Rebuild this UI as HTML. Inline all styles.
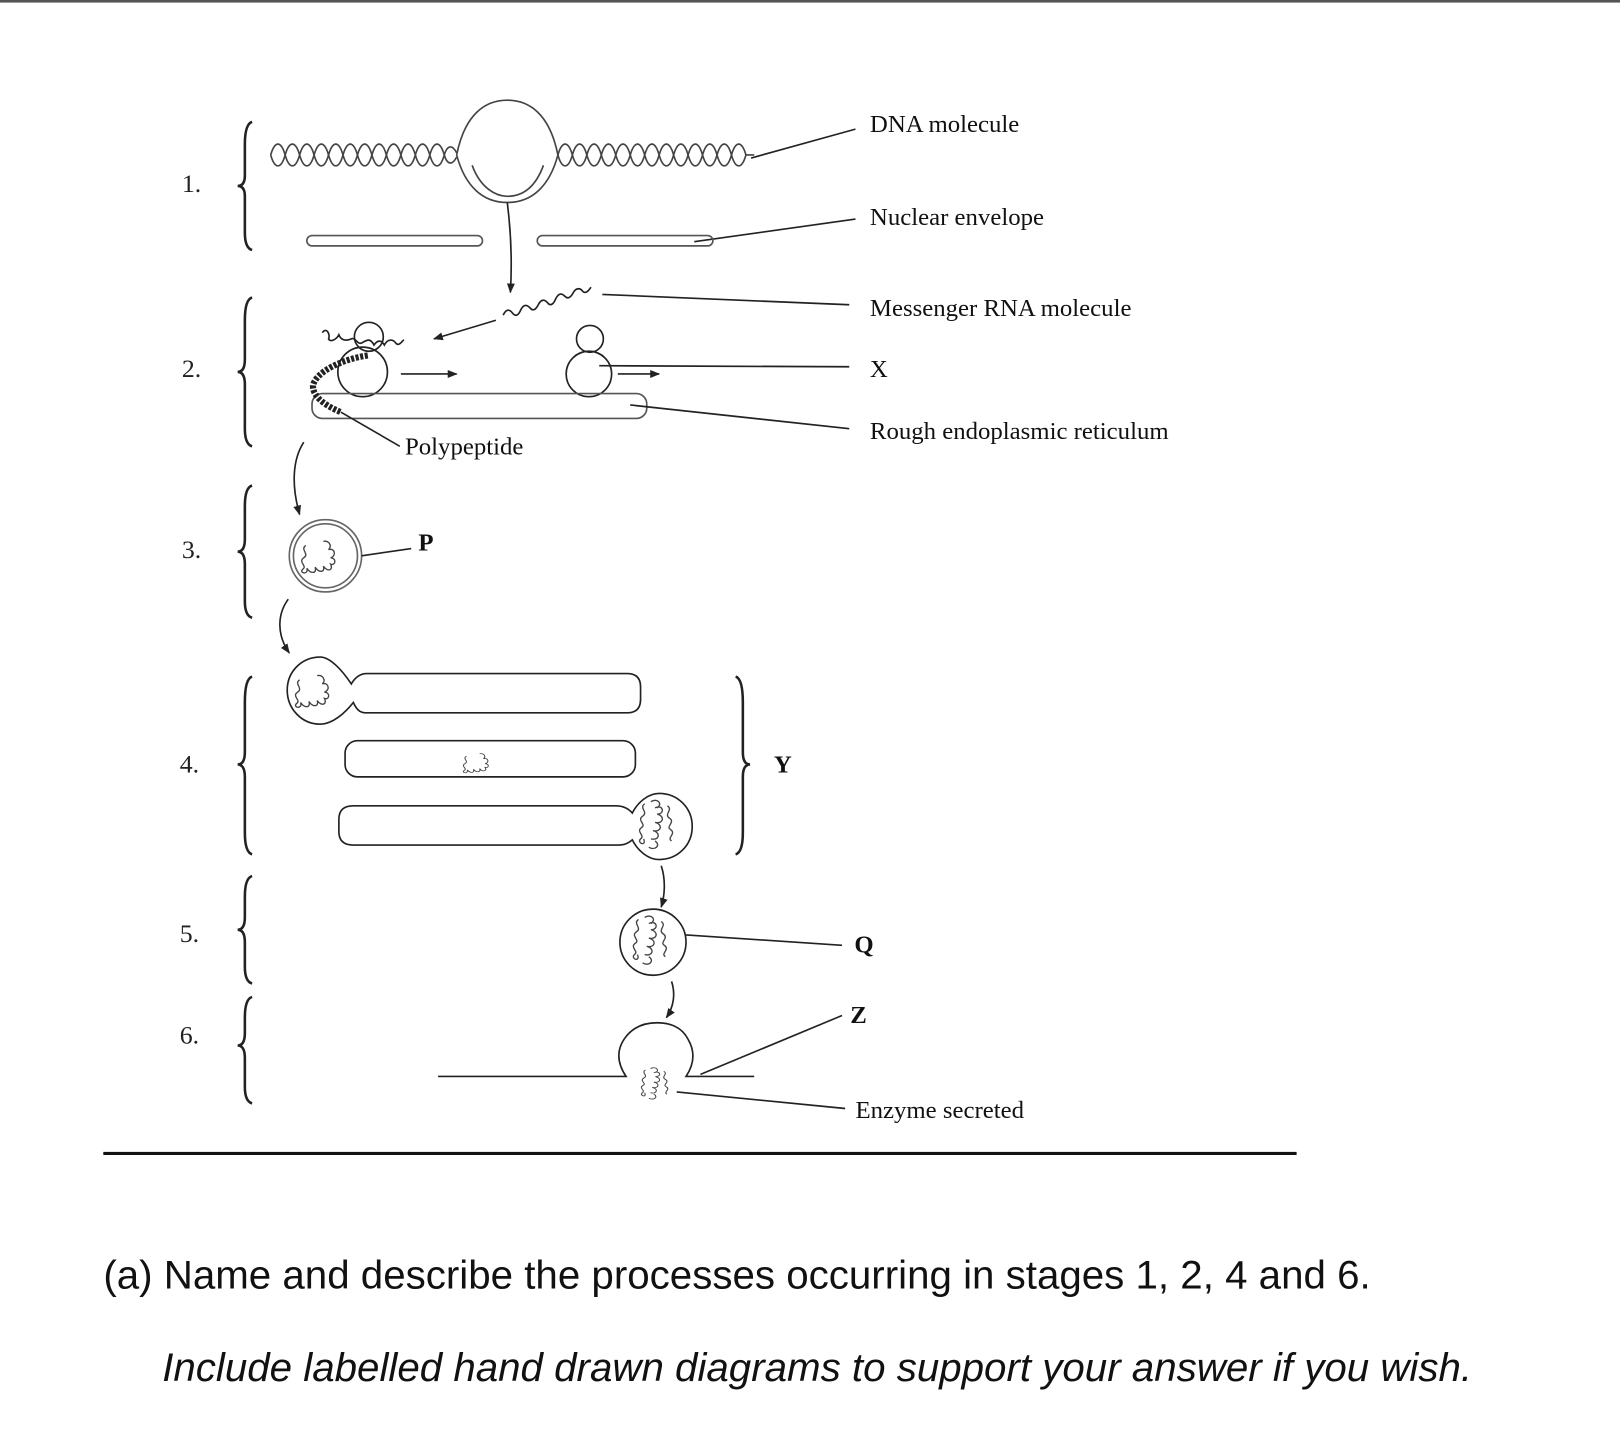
<!DOCTYPE html>
<html><head><meta charset="utf-8"><style>
html,body{margin:0;padding:0;background:#fff;width:1620px;height:1436px;overflow:hidden}
svg{display:block}
.l{font-family:"Liberation Serif",serif;font-size:24px;fill:#111}
.n{font-family:"Liberation Serif",serif;font-size:25px;fill:#222}
</style></head><body>
<svg width="1620" height="1436" viewBox="0 0 1568 1390" preserveAspectRatio="none" xmlns="http://www.w3.org/2000/svg">
<defs>
<marker id="a" viewBox="0 0 10 10" refX="9" refY="5" markerWidth="6" markerHeight="6" orient="auto"><path d="M0,1 L10,5 L0,9 z" fill="#222"/></marker>
<g id="sq"><path d="M-22,-10 c-6,4 4,8 -2,12 c-6,4 4,8 -1,11 c-4,4 6,6 4,-1 c4,6 10,5 8,-1 c4,6 10,5 8,-1 c4,6 10,4 7,-2 c5,2 6,-6 0,-6 c6,-2 4,-10 -2,-8 c4,-4 0,-9 -5,-8" fill="none" stroke="#444" stroke-width="1.3"/></g>
<g id="sq2"><path d="M-14,-22 c-6,4 4,8 -2,12 c-6,4 4,8 -1,11 c-6,4 4,8 -1,11 c-4,4 6,8 3,0 M-4,-18 c8,-4 10,6 2,6 c8,2 6,10 -2,8 c8,2 6,10 -2,8 c8,2 6,10 -2,8 M8,-20 c6,4 -4,8 2,12 c6,4 -4,8 1,11 c6,4 -4,8 1,11 M-8,-24 c6,-4 12,2 6,6 M-10,20 c6,4 12,-2 6,-6" fill="none" stroke="#444" stroke-width="1.3"/></g>
</defs>
<rect x="0" y="0" width="1568" height="2.5" fill="#555"/>
<g fill="none" stroke="#222" stroke-width="2.5">
<path d="M244,118 Q237,120 237,140 L237,170 Q237,180 230,180 Q237,180 237,190 L237,225 Q237,240 244,242"/>
<path d="M244,288 Q237,290 237,310 L237,348 Q237,360 230,360 Q237,360 237,372 L237,415 Q237,430 244,432"/>
<path d="M244,470 Q237,472 237,490 L237,522 Q237,534 230,534 Q237,534 237,546 L237,582 Q237,596 244,598"/>
<path d="M244,655 Q237,657 237,680 L237,728 Q237,740 230,740 Q237,740 237,752 L237,806 Q237,825 244,827"/>
<path d="M244,848 Q237,850 237,868 L237,888 Q237,900 230,900 Q237,900 237,912 L237,936 Q237,950 244,952"/>
<path d="M244,965 Q237,967 237,985 L237,1000 Q237,1012 230,1012 Q237,1012 237,1024 L237,1052 Q237,1066 244,1068"/>
<path d="M712,655 Q719,657 719,680 L719,728 Q719,740 726,740 Q719,740 719,752 L719,806 Q719,825 712,827"/>
</g>
<g fill="none" stroke="#444" stroke-width="1.6">
<path d="M262,150 C266,136 272,136 276,150 C280,164 286,164 290,150 C294,136 300,136 304,150 C308,164 314,164 318,150 C322,136 328,136 332,150 C336,164 342,164 346,150 C350,136 356,136 360,150 C364,164 370,164 374,150 C378,136 384,136 388,150 C392,164 398,164 402,150 C406,136 412,136 416,150 C420,164 426,164 430,150 C433,140 438,140 442,148"/>
<path d="M262,150 C266,164 272,164 276,150 C280,136 286,136 290,150 C294,164 300,164 304,150 C308,136 314,136 318,150 C322,164 328,164 332,150 C336,136 342,136 346,150 C350,164 356,164 360,150 C364,136 370,136 374,150 C378,164 384,164 388,150 C392,136 398,136 402,150 C406,164 412,164 416,150 C420,136 426,136 430,150 C433,160 438,160 442,152"/>
<path d="M540,150 C544,136 550,136 554,150 C558,164 564,164 568,150 C572,136 578,136 582,150 C586,164 592,164 596,150 C600,136 606,136 610,150 C614,164 620,164 624,150 C628,136 634,136 638,150 C642,164 648,164 652,150 C656,136 662,136 666,150 C670,164 676,164 680,150 C684,136 690,136 694,150 C698,164 704,164 708,150 C712,136 718,136 722,150 L730,150"/>
<path d="M540,150 C544,164 550,164 554,150 C558,136 564,136 568,150 C572,164 578,164 582,150 C586,136 592,136 596,150 C600,164 606,164 610,150 C614,136 620,136 624,150 C628,164 634,164 638,150 C642,136 648,136 652,150 C656,164 662,164 666,150 C670,136 676,136 680,150 C684,164 690,164 694,150 C698,136 704,136 708,150 C712,164 718,164 722,150"/>
<path d="M442,150 C450,110 470,97 491,97 C512,97 532,110 540,150 C532,180 515,196 491,196 C467,196 450,180 442,150"/>
<path d="M457,160 C465,182 480,190 491,190 C505,190 518,182 526,160"/>
</g>
<g fill="none" stroke="#222" stroke-width="1.6">
<path d="M491,196 C494,220 496,250 494,283" marker-end="url(#a)"/>
<line x1="727" y1="153" x2="828" y2="125"/>
<line x1="672" y1="234" x2="828" y2="212"/>
<rect x="297" y="228" width="170" height="10" rx="5" stroke="#555"/>
<rect x="520" y="228" width="170" height="10" rx="5" stroke="#555"/>
<path d="M487,305 c3,-6 6,-6 9,-2 c3,4 6,2 8,-3 c3,-6 6,-5 9,-2 c3,4 6,1 8,-3 c3,-6 6,-5 9,-2 c3,4 6,1 8,-4 c3,-6 6,-5 9,-2 c3,3 6,0 8,-4 c3,-5 7,-4 9,-1 c3,3 6,-1 8,-4"/>
<line x1="583" y1="285" x2="822" y2="295"/>
<path d="M480,310 L420,328" marker-end="url(#a)"/>
<path d="M312,322 c4,-6 8,2 6,6 c2,4 8,0 10,-4 c2,6 8,6 12,4 c4,-2 6,6 10,4 c4,-2 8,-6 12,2 c4,-6 8,-4 10,0 c3,-6 8,-6 11,-2 c3,4 6,-2 8,-3"/>
<circle cx="357" cy="326" r="14"/>
<circle cx="351" cy="360" r="24"/>
<path d="M388,362 L442,362" marker-end="url(#a)"/>
<circle cx="571" cy="328" r="13"/>
<circle cx="570" cy="362" r="22"/>
<path d="M598,362 L638,362" marker-end="url(#a)"/>
<line x1="580" y1="354" x2="822" y2="355"/>
<rect x="302" y="381" width="324" height="24" rx="10" stroke="#555"/>
<line x1="610" y1="392" x2="822" y2="415"/>
<path d="M356,344 C330,348 306,360 303,373 C302,385 318,394 330,399" stroke="#222" stroke-width="6" stroke-dasharray="3 1.5"/>
<line x1="330" y1="399" x2="387" y2="432"/>
<path d="M294,428 C283,445 282,470 290,498" marker-end="url(#a)"/>
<path d="M279,580 C268,595 268,615 280,632" marker-end="url(#a)"/>
<path d="M640,838 C644,850 644,865 640,878" marker-end="url(#a)"/>
<path d="M650,950 C654,962 652,975 645,985" marker-end="url(#a)"/>
<circle cx="315" cy="538" r="35" stroke="#666"/>
<circle cx="315" cy="538" r="31" stroke="#666"/>
<line x1="350" y1="538" x2="398" y2="531"/>
<path d="M340,662 C332,650 320,636 310,636 C292,636 278,650 278,668 C278,686 292,701 310,701 C322,701 334,690 342,680 C346,689 350,690 355,690 L607,690 Q620,690 620,677 L620,665 Q620,652 607,652 L355,652 Q346,652 340,662 Z"/>
<rect x="334" y="717" width="281" height="35" rx="12"/>
<path d="M612,787 C617,777 627,768 638,768 C656,768 670,782 670,800 C670,818 656,832 638,832 C627,832 617,823 612,813 C606,818 602,818 596,818 L342,818 Q328,818 328,805 L328,793 Q328,780 342,780 L596,780 Q606,780 612,787 Z"/>
<circle cx="632" cy="912" r="32"/>
<line x1="664" y1="905" x2="815" y2="915"/>
<path d="M424,1042 L606,1042 C598,1030 596,1018 604,1006 C612,994 624,990 636,990 C648,990 660,994 666,1006 C673,1018 672,1030 664,1042 L730,1042"/>
<line x1="678" y1="1040" x2="815" y2="983"/>
<line x1="655" y1="1057" x2="818" y2="1073"/>
</g>
<use href="#sq" x="318" y="538"/>
<use href="#sq" x="312" y="668"/>
<use href="#sq" x="468" y="738" transform="translate(468,738) scale(0.75,0.6) translate(-468,-738)"/>
<use href="#sq2" x="638" y="800"/>
<use href="#sq2" x="632" y="912"/>
<use href="#sq2" x="636" y="1050" transform="translate(636,1050) scale(0.8,0.65) translate(-636,-1050)"/>
<text class="n" x="176" y="186">1.</text>
<text class="n" x="176" y="365">2.</text>
<text class="n" x="176" y="540">3.</text>
<text class="n" x="174" y="748">4.</text>
<text class="n" x="174" y="912">5.</text>
<text class="n" x="174" y="1010">6.</text>
<text class="l" x="842" y="128">DNA molecule</text>
<text class="l" x="842" y="218">Nuclear envelope</text>
<text class="l" x="842" y="306">Messenger RNA molecule</text>
<text class="l" x="842" y="365">X</text>
<text class="l" x="842" y="425">Rough endoplasmic reticulum</text>
<text class="l" x="392" y="440">Polypeptide</text>
<text class="l" x="405" y="533" font-weight="bold">P</text>
<text class="l" x="749" y="748" font-weight="bold">Y</text>
<text class="l" x="827" y="922" font-weight="bold">Q</text>
<text class="l" x="823" y="990" font-weight="bold">Z</text>
<text class="l" x="828" y="1082">Enzyme secreted</text>
<rect x="100" y="1115" width="1155" height="3" fill="#111"/>
<text x="100" y="1247" font-family="Liberation Sans, sans-serif" font-size="39" fill="#111">(a) Name and describe the processes occurring in stages 1, 2, 4 and 6.</text>
<text x="157" y="1337" font-family="Liberation Sans, sans-serif" font-size="39" font-style="italic" fill="#111">Include labelled hand drawn diagrams to support your answer if you wish.</text>
</svg>
</body></html>
